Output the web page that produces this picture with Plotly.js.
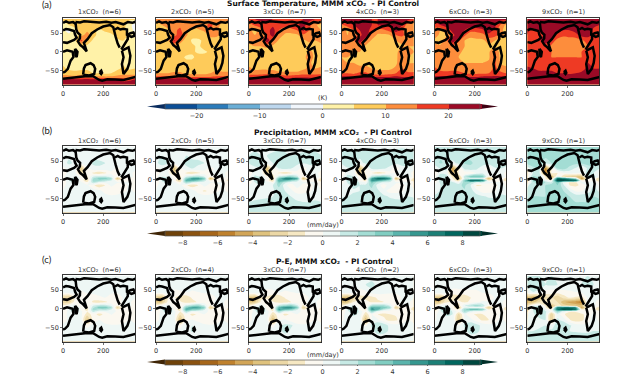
<!DOCTYPE html>
<html><head><meta charset="utf-8">
<script src="https://cdn.plot.ly/plotly-3.0.1.min.js"></script>
<style>html,body{margin:0;padding:0;background:#fff}#c{width:640px;height:375px}</style>
</head><body><div id="c"></div>
<script>
const lon=[0,30,60,90,120,150,180,210,240,270,300,330,360];
const latT=[88,72,58,45,30,15,0,-15,-30,-45,-58,-68,-76,-88];
const latP=[88,65,45,30,18,8,3,-2,-7,-15,-30,-45,-60,-72,-88];

const t1=[[6,7,8,8,8,8,8,8,8,8,8,6,6],[2,5,7,8,8,7,7,8,8,9,7,2,-3],[1,-2,3,8,9,6,4,6,7,9,6,3,-2],[3,1,2,8,12,7,3,3,4,7,7,4,2],[3,3,4,17,9,4,3,2,2,4,5,3,3],[4,3,4,5,4,3,3,3,3,3,4,4,4],[4,4,4,4,4,3,3,3,3,3,4,4,4],[4,4,4,4,3,3,3,3,3,3,4,4,4],[4,4,4,4,3,3,3,3,3,3,4,4,4],[6,4,4,4,4,3,3,3,3,4,6,4,5],[7,7,6,7,7,5,5,4,5,7,8,8,8],[13,12,12,13,13,12,11,11,11,12,13,13,13],[22,23,23,22,23,22,22,22,22,20,18,19,21],[24,24,24,24,24,24,24,24,24,24,24,24,24]];
const t2=[[12,13,13,12,12,12,11,11,12,13,14,12,12],[8,10,12,14,14,12,12,13,14,16,13,8,6],[7,5,9,14,16,11,8,9,11,15,11,8,7],[9,7,8,13,18,11,6,6,7,11,11,9,8],[8,8,9,21,13,7,4.5,4.5,5.5,8,8,7,8],[7,7,8,9,7,6,5.5,4.5,6,6,7,7,7],[7,7,7,7,7,6,5.5,4.5,4.5,5.5,6,7,7],[6,6,6,6,6,4.5,4.5,6,6,5,6,6,6],[6,6,6,6,6,6,6,6,6,6,7,7,6],[9,7,7,7,7,6,6,6,6,7,9,8,8],[10,10,10,11,11,9,8,8,8,10,11,11,11],[16,16,16,16,17,16,15,15,15,15,16,16,16],[24,24,24,24,24,24,24,24,24,22,20,21,22],[24,24,24,24,24,24,24,24,24,24,24,24,24]];
const t3=[[18,20,22,21,20,18,18,18,18,20,22,20,18],[12,16,17,19,19,17,17,18,19,22,17,11,8],[12,8,13,18,22,15,12,13,15,21,15,11,10],[13,10,11,17,22,13,9,8,9,14,15,13,12],[11,12,12,24,15,9,7,7,7,9,11,10,11],[9,10,10,11,9,7,7,7,7,7,8,9,9],[9,9,8,8,8,7,7,7,7,7,11,9,9],[8,8,8,8,8,7,7,7,7,7,14,8,8],[8,8,8,8,8,7,7,7,7,7,11,8,8],[11,9,9,9,9,8,8,8,8,9,11,10,11],[12,12,13,13,12,11,11,11,11,13,13,13,13],[20,19,19,20,20,19,18,18,19,19,19,19,20],[24,24,24,24,24,24,24,24,24,24,23,23,24],[24,24,24,24,24,24,24,24,24,24,24,24,24]];
const t4=[[22,23,24,24,22,20,20,21,22,24,24,22,20],[14,18,20,22,22,20,20,21,22,24,20,12,10],[13,9,15,20,24,17,13,14,17,23,16,12,10],[14,10,12,18,24,14,9,9,10,15,16,13,12],[12,13,14,24,15,9,8,8,8,10,12,11,12],[10,11,11,12,9,8,8,8,8,8,9,10,10],[11,11,10,10,9,8,8,8,8,8,14,11,10],[10,10,9,9,9,8,8,8,8,8,16,10,10],[11,10,10,9,9,8,8,8,8,9,14,10,10],[13,11,11,11,11,10,9,9,9,11,15,12,12],[15,15,14,16,16,13,12,12,13,15,16,16,16],[21,21,20,21,21,20,20,20,20,21,20,20,21],[24,24,24,24,24,24,24,24,24,24,24,24,24],[24,24,24,24,24,24,24,24,24,24,24,24,24]];
const t6=[[24,24,24,24,24,22,22,23,24,24,24,22,22],[16,20,23,24,24,22,22,24,24,24,22,14,8],[14,10,16,22,24,20,17,17,19,24,18,11,8],[14,8,10,18,24,16,11,12,13,18,17,12,8],[8,7,14,24,16,10,9,9,9,12,10,7,7],[12,11,11,13,12,10,8,8,9,9,9,6,6],[13,13,12,12,11,9,8,8,8,9,16,7,5],[12,12,11,11,10,9,8,8,9,9,17,8,6],[12,12,12,11,11,10,10,10,10,11,16,9,8],[16,13,12,12,12,12,12,12,12,13,16,13,11],[16,17,17,18,17,15,14,14,14,15,17,16,15],[21,21,21,22,21,20,20,20,21,21,21,21,21],[24,24,24,24,24,24,24,24,24,24,24,24,24],[24,24,24,24,24,24,24,24,24,24,24,24,24]];
const t9=[[24,24,24,24,24,24,24,24,24,24,24,24,24],[22,23,24,24,24,24,24,24,24,24,24,21,20],[21,18,21,24,24,23,20,20,22,24,23,19,18],[20,16,17,22,24,18,16,17,18,22,22,19,18],[17,18,19,24,18,13,12,12,12,14,17,16,17],[16,17,17,17,14,12,11,12,13,14,15,16,16],[18,18,17,16,15,14,14,14,14,15,19,17,17],[17,17,17,16,15,15,15,15,15,15,20,17,17],[18,18,17,17,16,16,16,16,16,16,20,18,18],[21,20,18,18,18,17,17,17,17,18,21,20,20],[22,22,22,22,22,20,20,19,20,21,22,22,23],[24,24,24,24,24,24,24,24,24,24,24,24,24],[24,24,24,24,24,24,24,24,24,24,24,24,24],[24,24,24,24,24,24,24,24,24,24,24,24,24]];

const p1=[[.4,.4,.5,.4,.4,.5,.4,.4,.4,.4,.5,.4,.4],[.6,.8,.5,.6,.7,.8,.6,.5,.6,.7,.8,.7,.6],[.6,1.2,.8,.3,.6,1.2,1.2,1,.8,.7,.8,.7,.6],[-.3,.4,.6,-3.2,-.2,.6,.8,.6,.4,-.3,.3,.4,.2],[-.5,.3,.2,-2.4,-.2,-1.2,-1.8,-1.2,-.3,0,.4,.3,-.3],[-.3,.8,.5,-.3,-1.2,1,1.4,1.4,.6,-.8,.4,.5,-.3],[-.8,1,1.2,-.3,-1.6,2,3.4,3.4,2.4,-3.5,-.5,-.4,-.8],[-1,1,1.8,-.3,-2,2.4,2.4,1.8,1,-.5,-.3,-.4,-1],[-.6,.5,1.4,.2,-.8,1.8,.8,.3,.3,.1,.1,.1,-.5],[-.2,.3,.5,.3,.2,-.8,-1.8,-1,.3,-.4,-.2,.1,-.3],[0,.3,.3,.3,.2,.5,.3,-.4,-1,-.6,-.1,.1,-.1],[.3,.4,.4,.4,.4,.5,.5,.4,.3,.3,.3,.4,.3],[.5,.6,.6,.6,.6,.6,.6,.6,.6,.6,.6,.6,.5],[.6,.6,.6,.6,.6,.6,.6,.6,.6,.6,.6,.6,.6],[.5,.5,.5,.5,.5,.5,.5,.5,.5,.5,.5,.5,.5]];
const p2=[[.5,.5,.5,.5,.5,.5,.5,.5,.5,.5,.5,.5,.5],[.8,1,.7,.8,.9,1,.8,.7,.8,.9,1,.9,.8],[.8,1.4,1,.3,.7,1.2,1.2,1.2,1,.9,1,.9,.8],[-.4,.4,.7,-3.6,-.4,.8,1,.7,.4,-.5,.3,.5,.2],[-.7,.3,.2,-2.8,-.4,-1.2,-1.8,-1.2,-.5,0,.5,.3,-.4],[-.4,1,.6,-.4,-1.4,1.2,1.8,2,1,-1,.5,.6,-.4],[-1,1.2,1.4,-.4,-1.8,3.2,5.5,5.5,3.5,-3.8,-.6,-.5,-1],[-1.2,1.2,2,-.4,-2.5,4.5,4.5,3.4,1.6,-.6,-.4,-.5,-1.2],[-.8,.7,1.6,.3,-.8,2.6,1.2,.5,.4,.1,.1,.1,-.6],[-.2,.4,.7,.4,.3,-.8,-1.8,-1,.4,-.4,-.3,.2,-.4],[0,.4,.4,.4,.4,.7,.5,-.4,-1.2,-.7,-.1,.1,-.1],[.4,.5,.5,.5,.6,.7,.7,.5,.4,.4,.4,.5,.4],[.7,.8,.8,.8,.8,.8,.8,.8,.7,.7,.7,.8,.7],[.8,.8,.8,.8,.8,.8,.8,.8,.8,.8,.8,.8,.8],[.7,.7,.7,.7,.7,.7,.7,.7,.7,.7,.7,.7,.7]];
const p3=[[.7,.7,.8,.7,.7,.8,.7,.7,.7,.7,.8,.7,.7],[1,1.3,1,1,1.2,1.4,1.2,1,1.1,1.2,1.4,1.3,1],[1,1.6,1.2,.6,1,1.6,1.6,1.4,1.2,1.1,1.2,1.2,1],[-.2,.6,.9,-3.8,-.6,1,1.2,1,.6,-.7,.5,.7,.3],[-.8,.5,.4,-3,-.6,-1.2,-1.8,-1.2,-.5,0,.6,.4,-.5],[-.5,1.3,.9,-.5,-1.6,1.4,2.2,2.8,1.5,-1.2,.6,.8,-.5],[-1.2,1.5,1.7,-.5,-1.8,4,6.5,6.5,5,-3.8,-.8,-.5,-1.2],[-1.4,1.5,2.2,-.4,-2,5,4.5,2.8,1.6,-.7,-.5,-.6,-1.4],[-.9,1,2,.6,-.4,3.5,1.4,.6,.6,.2,.1,.2,-.6],[-.1,.6,1,.7,1,2.4,.3,-.6,.6,-.3,-.5,.3,-.4],[.2,.6,.6,.7,.9,1.3,1,.3,-.6,-.6,-.2,.4,.1],[.7,.8,.9,.9,1,1.2,1.2,1,.7,.7,.7,.8,.7],[1,1.1,1.1,1.2,1.2,1.2,1.2,1.2,1.1,1,1,1.1,1],[1.2,1.2,1.2,1.2,1.2,1.2,1.2,1.2,1.2,1.2,1.2,1.2,1.2],[1,1,1,1,1,1,1,1,1,1,1,1,1]];
const p4=[[.8,.8,.9,.8,.8,.9,.8,.8,.8,.8,.9,.8,.8],[1.2,1.5,1.2,1.2,1.4,1.6,1.4,1.2,1.3,1.4,1.6,1.5,1.2],[1.2,1.8,1.4,.7,1.2,1.8,1.8,1.6,1.4,1.3,1.4,1.4,1.2],[-.1,.8,1,-4,-.6,1.2,1.4,1.1,.7,-.8,.6,.8,.4],[-.8,.6,.5,-3.2,-.6,-1,-1.8,-1.3,-.5,.1,.7,.5,-.5],[-.5,1.5,1,-.5,-1.6,1.8,3,3.4,2,-1.2,.7,.9,-.5],[-1.2,1.6,1.8,-.5,-1.6,5,7.5,7.5,5.5,-3.8,-.8,-.5,-1.2],[-1.4,1.6,2.4,-.3,-1.4,5.5,5,3.4,2,-.7,-.5,-.6,-1.4],[-.9,1.1,2.2,.8,-.2,3.5,1.6,.8,.7,.2,.1,.2,-.6],[.1,.8,1.2,1,1.4,2.4,.5,-.6,.7,-.3,-.5,.4,-.4],[.4,.8,.9,1,1.3,1.6,1.2,.4,-.5,-.5,-.2,.5,.2],[.9,1,1.2,1.2,1.4,1.6,1.5,1.2,.9,.8,.8,1,.9],[1.3,1.4,1.5,1.6,1.6,1.5,1.5,1.4,1.3,1.2,1.2,1.3,1.3],[1.5,1.5,1.5,1.5,1.5,1.5,1.5,1.5,1.5,1.5,1.5,1.5,1.5],[1.2,1.2,1.2,1.2,1.2,1.2,1.2,1.2,1.2,1.2,1.2,1.2,1.2]];
const p6=[[1,1.2,1.2,1.1,1.1,1.2,1.1,1.1,1.1,1.1,1.2,1.1,1],[1.6,1.9,1.6,1.6,1.8,1.9,1.8,1.6,1.6,1.8,1.9,1.8,1.6],[1.6,2.1,1.8,.6,1.4,2.1,2.1,1.8,1.6,1.6,1.8,1.8,1.6],[-.1,1,1.2,-5,-1.4,1.4,1.8,1.2,.2,-1,.8,1,.5],[-1,.8,.7,-4,-.8,-1,-1,.2,.6,.6,.9,.6,-.6],[-.5,1.8,1.4,-1.4,-3.2,1.8,3.8,4,3.4,-1,.8,1.1,-.5],[-1.4,1.8,1.8,-.8,-3.6,1,.5,.4,.5,-4,-1,-.6,-1.4],[-1.5,1.8,2.2,-.3,-1.8,3.4,8,8,6.5,-.8,-.6,-.6,-1.5],[-1,1.4,1.9,1.2,0,2.8,2.2,1,1,.3,.1,.3,-.6],[.3,1,1.4,1.4,1.8,2.2,1,-1.2,-1,-.5,-.5,.6,-.4],[.6,1.1,1.2,1.4,1.6,1.9,1.4,.4,-.6,-.5,-.2,.7,.3],[1.1,1.2,1.4,1.4,1.5,1.8,1.7,1.4,1.1,.9,.9,1.2,1.1],[1.4,1.5,1.6,1.6,1.6,1.6,1.6,1.5,1.4,1.3,1.3,1.5,1.4],[1.7,1.7,1.7,1.7,1.7,1.7,1.7,1.7,1.7,1.7,1.7,1.7,1.7],[1.6,1.6,1.6,1.6,1.6,1.6,1.6,1.6,1.6,1.6,1.6,1.6,1.6]];
const p9=[[2,2.2,2.4,2.4,2.2,2.4,2.2,2.2,2.2,2.2,2.4,2.2,2],[2.4,2.8,2.5,2.3,2.5,2.8,2.5,2.2,2.3,2.5,2.8,2.6,2.3],[2.3,2.8,2.5,1.4,2,2.8,2.8,2.5,2.3,2.3,2.5,2.5,2.3],[.4,1.6,2,-5.5,-1,2,2.4,1.6,.8,-.8,1.2,1.6,1],[-1,1.2,1.2,-6,-.8,-1,0,.4,.2,.2,1.4,1,-.4],[-.6,2.2,1.8,-1,-4,.6,-2,-3,-3.2,-3.4,1.2,1.6,-.6],[-1.6,2.4,2.4,-.8,-3,7,6.5,5,2.5,-5,-1,-.6,-1.6],[-1.6,2.4,3,.4,-.4,8.7,8.8,8.7,8.2,-.6,-.6,-.6,-1.6],[-1,1.8,2.8,2,1,4,.5,-1.2,-1.2,.5,.2,.4,-.8],[.8,1.6,2,2,2.8,3,1.2,-1,-1.2,-.8,.4,1,-.4],[1.2,1.8,2,2,2.4,2.6,2,1,-.2,-.2,.6,1.4,.8],[1.8,2,2,2,2.2,2.6,2.4,2,1.6,1.6,1.6,2,1.8],[2.2,2.2,2.4,2.5,2.5,2.5,2.4,2.2,2,2,2,2.2,2.2],[2.6,2.6,2.6,2.6,2.6,2.6,2.6,2.6,2.6,2.6,2.6,2.6,2.6],[2.4,2.4,2.4,2.4,2.4,2.4,2.4,2.4,2.4,2.4,2.4,2.4,2.4]];

const e1=[[.2,.2,.2,.2,.2,.2,.2,.2,.2,.2,.2,.2,.2],[.3,.4,.3,.3,.3,.4,.3,.2,.3,.3,.4,.3,.3],[.4,.6,.4,-.1,.1,.3,.2,.2,.2,.2,.3,.3,.3],[-2.4,-3,-.8,-.8,-.3,-.6,-.1,0,-.5,-.7,.1,.2,0],[-2.6,-2.6,-.5,-.4,-.3,-1.2,-1.5,-1.2,-.6,-.5,.2,.2,-.5],[-.8,.2,.3,-.4,-1,1,1.8,1.8,.8,-1,.2,.2,-.4],[-1,.5,1.2,-.3,-1.2,1.8,3.6,3.6,2.2,-2.6,-.5,-.4,-.8],[-1.2,.5,2.4,-.2,-1.6,2.4,1.8,2,1,-.7,-.4,-.4,-1],[-.7,.3,2.2,.2,-1,1.5,.3,.2,.3,-.1,-.1,-.1,-.5],[-.3,.2,.8,.3,-1.6,-.5,-1.4,-.7,.1,-.5,-.3,0,-.3],[-.2,.1,.2,.3,-3.4,-.5,0,-.4,-.8,-.6,-.2,0,-.2],[.1,.1,.1,.2,-.2,.2,.5,.2,.1,.1,.1,.2,.1],[.2,.2,.2,.2,.2,.2,.7,.2,.2,.2,.2,.2,.2],[.3,.3,.3,.3,.3,.3,.3,.3,.3,.3,.3,.3,.3],[.2,.2,.2,.2,.2,.2,.2,.2,.2,.2,.2,.2,.2]];
const e2=[[.3,.3,.3,.3,.3,.3,.3,.3,.3,.3,.3,.3,.3],[.5,.6,.4,.4,.4,.5,.4,.3,.4,.4,.5,.4,.4],[.5,.7,.5,-.2,-.1,.1,-.1,0,.2,.3,.4,.4,.4],[-2.8,-3.4,-1,-1,-1.6,-1.8,-.8,-.6,-.7,-.8,.1,.3,0],[-3,-3,-.7,-.5,-.8,-1.6,-1.5,-.8,-.6,-.6,.3,.2,-.6],[-1,.3,.4,-.5,-1,1.4,2.4,2.8,1.2,-1.2,.3,.3,-.5],[-1.3,.7,1.4,-.3,-1.2,3.5,5.2,5,3,-3,-.6,-.5,-1],[-1.5,.7,3,-.2,-1.8,4.8,3.5,3,1.2,-.9,-.5,-.5,-1.2],[-.9,.4,2.6,.3,-1,2.4,.6,.3,.3,-.2,-.2,-.1,-.6],[-.4,.3,1,.4,-1.8,-.3,-1.4,-.8,0,-.5,-.4,0,-.4],[-.2,.2,.3,.4,-3.6,-.3,.1,-.5,-.9,-.7,-.3,0,-.2],[.2,.2,.2,.3,-.4,.6,1,1,.3,.1,.1,.3,.1],[.3,.3,.3,.3,.3,.3,1.2,.6,.3,.3,.3,.3,.3],[.4,.4,.4,.4,.4,.4,.4,.4,.4,.4,.4,.4,.4],[.3,.3,.3,.3,.3,.3,.3,.3,.3,.3,.3,.3,.3]];
const e3=[[.3,.3,.3,.3,.3,.3,.3,.3,.3,.3,.3,.3,.3],[.5,.7,.5,.4,.5,.6,.4,.3,.4,.4,.5,.4,.4],[.5,.8,.5,-.3,-.2,.1,-.1,0,.2,.3,.4,.4,.4],[-3,-3.8,-1.2,-1.2,-1.8,-2,-.9,-.7,-.8,-1,.1,.3,0],[-3.2,-3.2,-.8,-.6,-.9,-1.6,-1.5,-1,-.7,-.6,.3,.2,-.7],[-1.2,.4,.5,-.5,-1,1.8,2.6,3.2,1.4,-1.3,.3,.3,-.5],[-1.4,.8,1.5,-.3,-1.2,4.5,5.8,5.6,3.6,-3,-.6,-.5,-1],[-1.6,.8,3.2,-.2,-1.6,5.4,4,3.4,1.2,-1,-.5,-.5,-1.3],[-1,.5,2.8,.4,-.8,2.6,.7,.4,.3,-.2,-.2,-.1,-.6],[-.4,.4,1.1,.5,-1.8,-.2,-1.4,-.8,0,-.6,-.5,.1,-.4],[-.2,.2,.3,.4,-3.8,-.1,.2,-.5,-1,-.8,-.3,.1,-.2],[.2,.3,.3,.4,-.3,.8,1.2,1.2,.4,.2,.2,.4,.2],[.4,.4,.4,.4,.4,.4,1.6,.7,.4,.4,.4,.4,.4],[.5,.5,.5,.5,.5,.5,.5,.5,.5,.5,.5,.5,.5],[.4,.4,.4,.4,.4,.4,.4,.4,.4,.4,.4,.4,.4]];
const e4=[[.4,.4,.4,.4,.4,.4,.4,.4,.4,.4,.4,.4,.4],[.6,.8,.6,.5,1,1.4,.6,.4,.5,.5,.6,.5,.5],[.6,.9,.6,-.4,-.2,.5,.5,.3,.2,.3,.4,.4,.4],[-3.4,-4,-2.4,-1.4,-1.4,-1.4,-.8,-.6,-.6,-.9,.1,.4,.1],[-3.4,-3.4,-1,-.6,-.6,-1.2,-1.2,-1,-.7,-.4,.3,.3,-.7],[-1.2,.5,.5,-.5,-1,2.2,2.4,2.4,1,-1.2,.3,.3,-.6],[-1.6,.9,1.6,-.3,-.9,5,4.4,3.6,2.6,-3,-.7,-.6,-1.2],[-1.8,1,3,-.1,-1.2,5.6,4.4,1.6,.6,-1,-.6,-.6,-1.4],[-1.1,.6,2.8,.6,-.8,2.8,.5,-.5,-.6,-.6,-.3,-.2,-.8],[-.4,.5,1.2,.8,-1.8,.1,-1,-1.2,-1,-.9,-.7,.1,-.5],[-.2,.4,.5,.6,-3.8,.3,.2,-.8,-1.3,-1.2,-.4,.1,-.3],[.4,.5,.5,.6,-.2,1.2,2,1.8,.6,.3,.2,.5,.2],[.5,.5,.6,.6,.6,.6,1.8,1.6,.7,.5,.5,.5,.5],[.6,.6,.6,.6,.6,.6,.6,.6,.6,.6,.6,.6,.6],[.5,.5,.5,.5,.5,.5,.5,.5,.5,.5,.5,.5,.5]];
const e6=[[.5,.5,.5,.5,.5,.5,.5,.5,.5,.5,.5,.5,.5],[.8,1,.8,.6,.7,.6,.5,.5,.6,.6,.7,.6,.6],[.6,1,.7,-.5,-.5,-.3,-.2,-.2,.1,.3,.5,.5,.5],[-3,-3.6,-1.6,-1.6,-1.4,-1.8,-1,-.8,-.7,-1,.1,.4,.1],[-3,-3,-1.2,-.8,-.8,-1.2,-.8,-.2,.2,.2,.4,.3,-.7],[-1.4,.5,.6,-.7,-1.6,1,2,2.6,1.8,-.8,.3,.3,-.6],[-1.8,1,1.8,-.4,-2.6,.8,.3,.2,.3,-3.2,-.8,-.6,-1.3],[-2,1,3,0,-.8,2.6,4.4,4.4,3.2,-1,-.6,-.6,-1.4],[-1.2,.7,3,.8,-.5,2.4,.8,.2,.2,-.2,-.3,-.2,-.8],[-.4,.6,1.2,1,-2.4,.3,-.8,-1.2,-1,-.7,-.7,.2,-.5],[-.2,.5,.6,.8,-3.2,.5,.4,-.6,-1.2,-1,-.4,.2,-.3],[.4,.6,.6,.8,0,1.2,1.8,1.4,.6,.3,.3,.6,.3],[.6,.7,.7,.8,.7,.7,1.6,1.2,.7,.6,.6,.6,.6],[.8,.8,.8,.8,.8,.8,.8,.8,.8,.8,.8,.8,.8],[.7,.7,.7,.7,.7,.7,.7,.7,.7,.7,.7,.7,.7]];
const e9=[[1,1,1,1,1,1,1,1,1,1,1,1,1],[1.2,1.4,1.2,1,1.2,1,1,.8,.9,1,1.1,1,1],[.6,1,.8,-.3,-.6,-.5,-.4,-.2,0,.2,.8,.9,.8],[-3.4,-4.4,-3.6,-2.4,-1.6,-3,-1.5,-.8,-1.2,-1.4,.2,.6,.2],[-3.6,-3.6,-2,-1.2,-1,-2,-3.8,-4.4,-5,-5.4,.4,.4,-.8],[-1.6,.7,.8,-1,-3.6,-1.2,-2.4,-2.8,-3,-3.4,.3,.4,-.8],[-2,1.2,2,-.5,-3.6,6.5,7,7,6,-4.5,-1,-.7,-1.4],[-2,1.2,3.2,.2,-.8,7,8.6,8.6,7.5,-1,-.8,-.7,-1.6],[-1.2,1,3.4,1.2,-.3,2.8,.6,-.8,-.8,-.3,-.4,-.2,-.9],[-.2,.9,1.4,1.2,-2.8,.6,-.8,-1.6,-1.8,-1.2,-.6,.2,-.6],[0,.7,.8,1,-3,1.2,.6,-.9,-1.6,-1.3,-.4,.4,-.3],[.6,.8,.9,1,.4,1.6,2,1.2,.5,.3,.4,.8,.4],[1,1,1.1,1.2,1.2,1.2,1.4,1,.9,.8,.8,1,1],[1.3,1.3,1.3,1.3,1.3,1.3,1.3,1.3,1.3,1.3,1.3,1.3,1.3],[1.1,1.1,1.1,1.1,1.1,1.1,1.1,1.1,1.1,1.1,1.1,1.1,1.1]];

// outlines: lon / lat vertex lists, null separates the pieces
const coastLon=[0,15,30,50,62,null,
 62,66,72,85,84,74,86,100,118,106,104,122,143,170,200,234,250,262,272,282,null,
 62,85,105,140,180,215,240,262,285,300,322,345,360,null,
 258,272,285,300,318,318,340,360,null, 290,308,322,322,335,350,360,null,
 293,310,326,335,330,320,310,301,293,296,301,293,null, 60,72,68,62,60,null,
 0,15,30,55,60,68,55,40,20,0,null, 0,20,48,52,38,30,24,10,0,null,
 100,104,112,137,152,160,155,130,100,null, 182,190,194,190,182,null,
 0,30,60,85,110,150,180,195,220,260,300,330,360];
const coastLat=[78,82,78,80,76,null,
 80,60,52,46,36,28,18,12,1,20,24,34,50,60,68,72,66,40,22,11,null,
 80,79,82,80,79,81,78,80,76,74,80,78,81,null,
 60,64,60,62,60,46,40,44,null, 6,20,34,46,50,52,42,null,
 3,8,12,-11,-30,-46,-52,-60,-33,-25,-15,3,null, 8,0,-14,-10,8,null,
 58,61,60,56,46,38,32,28,24,26,null, 0,4,0,-14,-24,-36,-46,-54,-56,null,
 -62,-45,-36,-31,-36,-46,-60,-64,-62,null, -55,-51,-57,-60,-55,null,
 -73,-71,-70,-68,-66,-66,-76,-78,-74,-75,-76,-72,-68];

const rows=[{grid:[t1,t2,t3,t4,t6,t9],lat:latT,n:[6,5,7,3,3,1]},
 {grid:[p1,p2,p3,p4,p6,p9],lat:latP,n:[6,5,7,3,3,1]},
 {grid:[e1,e2,e3,e4,e6,e9],lat:latP,n:[6,4,7,2,3,1]}];
const mult=[1,2,3,4,6,9];
const tempColors=['#0b4e96','#2b7bba','#6aaed6','#bdd7ee','#f1f6fc','#fff2a8','#fecb5a','#fd8d3c','#ee3a24','#9b0a26'];
const rainColors=['#6f4209','#8a5210','#a6661a','#bf812d','#d2a557','#dfc27d','#ecd8a6','#f6e8c3','#fbf8f0','#eef7f5','#c7eae5','#a3ddd4','#80cdc1','#5ab4ac','#35978f','#1c7f76','#01665e','#00483f'];
const rowStyle=[{top:18,cbTop:104,colors:tempColors,lo:-25,hi:25,step:5,ticks:[-20,-10,0,10,20],unit:'(K)',title:'Surface Temperature, MMM xCO₂  - PI Control',titleY:3.5,unitY:98.5,tipL:'#0a2c5e',tipR:'#3d0012',label:'(a)',labelY:5,tx:322.5},
 {top:146,cbTop:231,colors:rainColors,lo:-9,hi:9,step:1,ticks:[-8,-6,-4,-2,0,2,4,6,8],unit:'(mm/day)',title:'Precipitation, MMM xCO₂  - PI Control',titleY:132,unitY:225,tipL:'#3f2506',tipR:'#012f29',label:'(b)',labelY:131,tx:333},
 {top:275,cbTop:359.5,colors:rainColors,lo:-9,hi:9,step:1,ticks:[-8,-6,-4,-2,0,2,4,6,8],unit:'(mm/day)',title:'P-E, MMM xCO₂  - PI Control',titleY:261,unitY:354.5,tipL:'#3f2506',tipR:'#012f29',label:'(c)',labelY:259,tx:334}];
const lefts=[63,156,248.8,341.6,434.5,527.3];
const W=640,H=375,PW=72,PH=67.5,BAR=5;
const font='"DejaVu Sans"';
const traces=[],anns=[],shapes=[],layout={width:W,height:H,margin:{l:0,r:0,t:0,b:0,autoexpand:false},paper_bgcolor:'#fff',plot_bgcolor:'#fff',showlegend:false,font:{family:font,size:6.5,color:'#333'}};
function discrete(cols){const s=[];cols.forEach((c,i)=>{s.push([i/cols.length,c]);s.push([(i+1)/cols.length,c]);});return s;}
let k=0;
rows.forEach((r,ri)=>{const st=rowStyle[ri];
 r.grid.forEach((z,ci)=>{k++;const xa=k===1?'x':'x'+k,ya=k===1?'y':'y'+k;
  const xn=k===1?'xaxis':'xaxis'+k,yn=k===1?'yaxis':'yaxis'+k;
  const x0=lefts[ci];
  layout[xn]={domain:[x0/W,(x0+PW)/W],anchor:ya,range:[0,358],tickvals:[0,200],ticks:'outside',ticklen:2,tickwidth:.7,tickcolor:'#333',tickfont:{size:6.5,color:'#333',family:font},showline:true,mirror:true,linecolor:'#222',linewidth:.9,showgrid:false,zeroline:false,layer:'above traces'};
  layout[yn]={domain:[1-(st.top+PH)/H,1-st.top/H],anchor:xa,range:[-91,91],tickvals:[-50,0,50],ticks:'outside',ticklen:2,tickwidth:.7,tickcolor:'#333',tickfont:{size:6.5,color:'#333',family:font},showline:true,mirror:true,linecolor:'#222',linewidth:.9,showgrid:false,zeroline:false,layer:'above traces'};
  const tr={type:'contour',x:lon,y:r.lat,z:z,xaxis:xa,yaxis:ya,zauto:false,zmin:st.lo,zmax:st.hi,colorscale:discrete(st.colors),autocontour:false,contours:{start:st.lo,end:st.hi,size:st.step,coloring:'fill',showlines:false},line:{width:0,smoothing:0.7},showscale:false,hoverinfo:'skip'};
  if(ci===0){tr.showscale=true;tr.colorbar={orientation:'h',lenmode:'pixels',len:315,thicknessmode:'pixels',thickness:BAR,x:322.5/W,xanchor:'center',y:1-st.cbTop/H,yanchor:'top',xpad:0,ypad:0,tickvals:st.ticks,ticks:'outside',ticklen:1.5,tickwidth:.7,tickcolor:'#333',tickfont:{size:6.5,color:'#333',family:font},outlinecolor:'#555',outlinewidth:.7,borderwidth:0};}
  traces.push(tr);
  traces.push({type:'scatter',mode:'lines',x:coastLon,y:coastLat,xaxis:xa,yaxis:ya,line:{color:'#000',width:2.5},hoverinfo:'skip',connectgaps:false});
  anns.push({xref:'paper',yref:'paper',x:(x0+PW/2)/W,y:1-(st.top-5.5)/H,yanchor:'middle',xanchor:'center',showarrow:false,font:{size:6.5,color:'#333',family:font},text:mult[ci]+'xCO₂  (n='+r.n[ci]+')'});
 });
 anns.push({xref:'paper',yref:'paper',x:st.tx/W,y:1-st.titleY/H,yanchor:'middle',xanchor:'center',showarrow:false,font:{size:7.5,color:'#111',family:font},text:'<b>'+st.title+'</b>'});
 anns.push({xref:'paper',yref:'paper',x:322.5/W,y:1-st.unitY/H,yanchor:'middle',xanchor:'center',showarrow:false,font:{size:6.5,color:'#333',family:font},text:st.unit});
 anns.push({xref:'paper',yref:'paper',x:40/W,y:1-st.labelY/H,yanchor:'middle',xanchor:'left',showarrow:false,font:{size:9.5,color:'#222',family:'Lato'},text:st.label});
 const yt=1-st.cbTop/H,yb=1-(st.cbTop+BAR)/H,ym=(yt+yb)/2;
 shapes.push({type:'path',xref:'paper',yref:'paper',path:`M ${165/W} ${yt} L ${147/W} ${ym} L ${165/W} ${yb} Z`,fillcolor:st.tipL,line:{width:0}});
 shapes.push({type:'path',xref:'paper',yref:'paper',path:`M ${480/W} ${yt} L ${498/W} ${ym} L ${480/W} ${yb} Z`,fillcolor:st.tipR,line:{width:0}});
});
layout.annotations=anns;layout.shapes=shapes;
Plotly.newPlot('c',traces,layout,{displayModeBar:false,staticPlot:true});
</script></body></html>
